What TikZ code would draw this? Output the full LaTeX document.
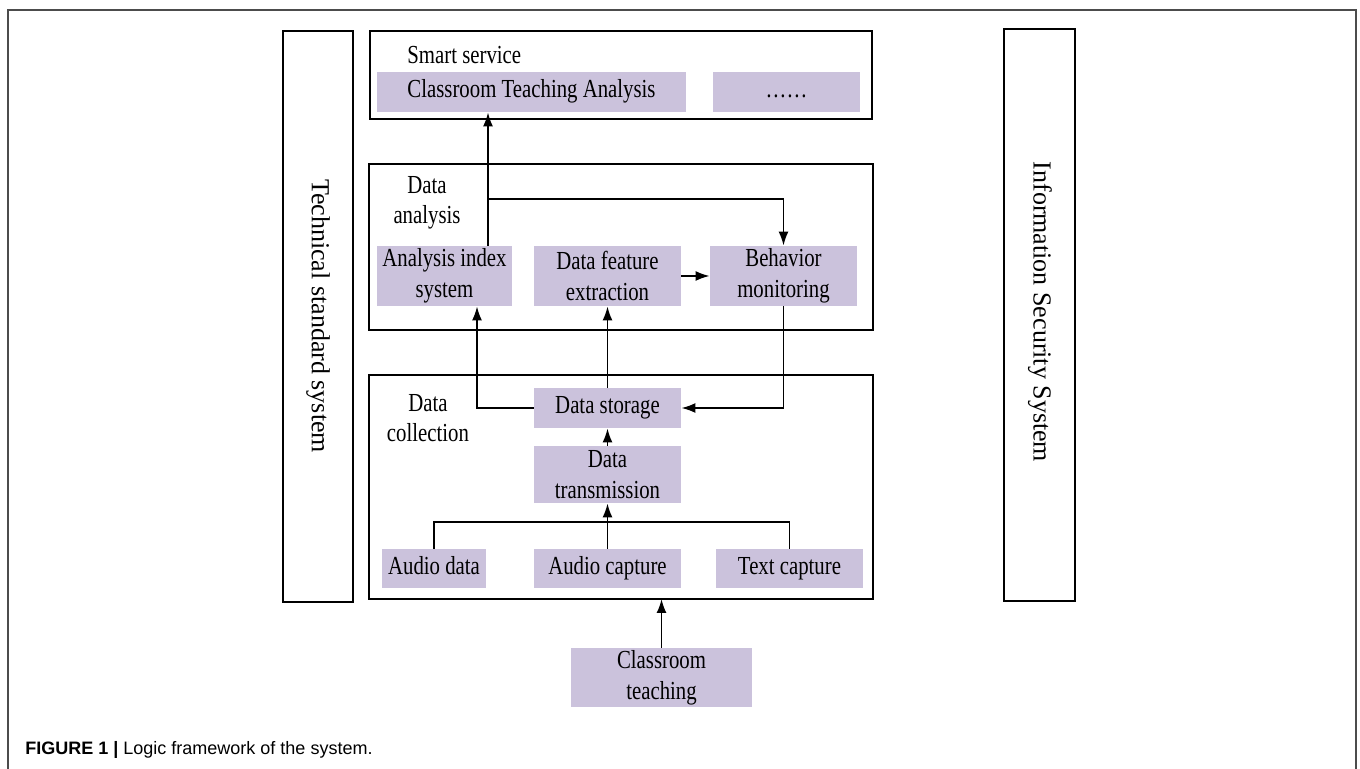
\documentclass[tikz,border=0pt]{standalone}
\usepackage{fontspec}
\setmainfont[FakeStretch=0.8]{Liberation Serif}
\newfontfamily\rotfont{Liberation Serif}
\setsansfont{Liberation Sans}
\usetikzlibrary{arrows.meta}
\definecolor{lilac}{RGB}{203,194,220}
\begin{document}
\begin{tikzpicture}[x=0.5pt,y=-0.5pt,
    box/.style={fill=lilac,inner sep=0pt,align=center,font=\fontsize{13}{15.5}\selectfont},
    one/.style={box,text height=9pt,text depth=3pt},
    layer/.style={draw,line width=1pt},
    lbl/.style={align=center,inner sep=0pt,font=\fontsize{13}{15}\selectfont},
    side/.style={rotate=-90,inner sep=0pt,font=\rotfont\fontsize{13}{15}\selectfont},
    link/.style={line width=0.9pt,-{Latex[length=7pt,width=5pt]}}]
      \useasboundingbox (0,0) rectangle (1360,769);
      \draw[gray!60!black,line width=0.6pt] (8,769) -- (8,10) -- (1356,10) -- (1356,769);
      % layers
      \draw[layer] (370,31) rectangle (872,119);
      \draw[layer] (369,164) rectangle (873,330);
      \draw[layer] (369,375) rectangle (873,599);
      \draw[layer] (283,31) rectangle (353,602);
      \draw[layer] (1004,29) rectangle (1075,601);
      \node[side] (tss) at (318,316) {Technical standard system};
      \node[side] (iss) at (1040,312) {Information Security System};
      \node[lbl,anchor=west] (svc) at (407,55) {Smart service};
      \node[lbl] (ana) at (427,203) {Data\\analysis};
      \node[lbl] (colt) at (428,418) {Data\\collection};
      % boxes
      \node[one,minimum width=154.5pt,minimum height=20pt] (cta) at (531.5,92) {Classroom Teaching Analysis};
      \node[one,minimum width=73.5pt,minimum height=20pt] (more) at (786.5,92) {\dots\dots};
      \node[box,minimum width=67.5pt,minimum height=30pt] (ais) at (444.5,276) {Analysis index\\system};
      \node[box,minimum width=73.5pt,minimum height=30pt] (dfe) at (607.5,276) {Data feature\\extraction};
      \node[box,minimum width=73.5pt,minimum height=30pt] (bm) at (783.5,276) {Behavior\\monitoring};
      \node[one,minimum width=73.5pt,minimum height=20pt] (ds) at (607.5,408) {Data storage};
      \node[box,minimum width=73.5pt,minimum height=28.5pt] (dt) at (607.5,474.5) {Data\\transmission};
      \node[one,minimum width=52pt,minimum height=19.5pt] (ad) at (434,568.5) {Audio data};
      \node[one,minimum width=73.5pt,minimum height=19.5pt] (ac) at (607.5,568.5) {Audio capture};
      \node[one,minimum width=73.5pt,minimum height=19.5pt] (tc) at (789.5,568.5) {Text capture};
      \node[box,minimum width=90.5pt,minimum height=29.5pt] (ct) at (661.5,677.5) {Classroom\\teaching};
      \coordinate (tap) at (488,199);
      \coordinate (lft) at (477,408);
      \coordinate (bus) at (607.5,522);
      \coordinate (in) at (661.5,599);
      % connectors
      \draw[link] (ais.north -| tap) -- (cta.south -| tap);
      \draw[link] (tap) -| (bm.north);
      \draw[link] (dfe.east) -- (bm.west);
      \draw[link] (ds.west) -| (ais.south -| lft);
      \draw[link] (ds.north) -- (dfe.south);
      \draw[link] (bm.south) |- (ds.east);
      \draw[link] (dt.north) -- (ds.south);
      \draw[link] (ac.north) -- (dt.south);
      \draw[line width=0.9pt] (ad.north) |- (bus) -| (tc.north);
      \draw[link] (ct.north) -- (in);
      \node[anchor=base west,inner sep=0pt,font=\sffamily\fontsize{9}{11}\selectfont] (cap) at (25,754)
        {\textbf{FIGURE 1 |} Logic framework of the system.};
    \end{tikzpicture}
\end{document}
